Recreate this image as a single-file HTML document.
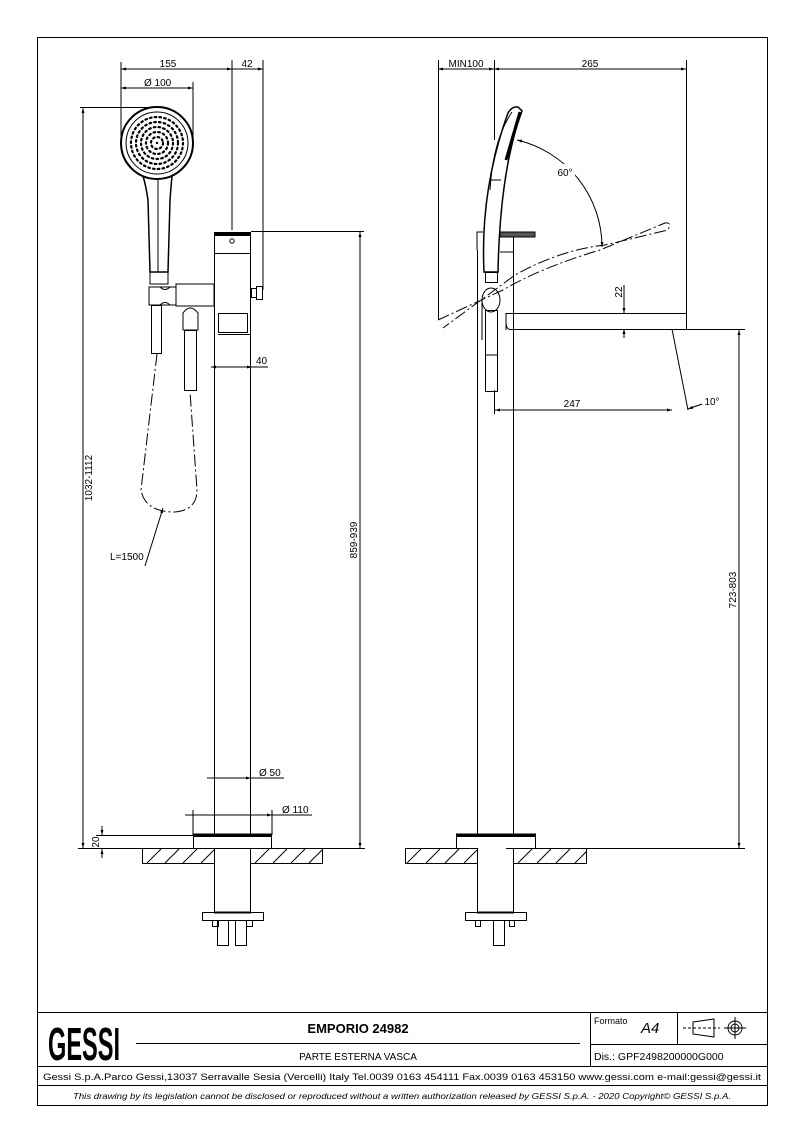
<!DOCTYPE html>
<html><head><meta charset="utf-8"><style>
html,body{margin:0;padding:0;background:#fff}
svg{display:block}
text{font-family:"Liberation Sans",sans-serif;fill:#000}
</style></head><body>
<svg width="794" height="1123" viewBox="0 0 794 1123" xmlns="http://www.w3.org/2000/svg">
<defs>
<marker id="a" viewBox="0 0 10 10" refX="10" refY="5" markerWidth="7" markerHeight="5" orient="auto-start-reverse"><path d="M0,2 L10,5 L0,8z" fill="#000"/></marker>
</defs>
<g fill="none" stroke="#000" stroke-width="1">
<rect x="37.5" y="37.5" width="730" height="1068"/>
<line x1="37" y1="1012.5" x2="767" y2="1012.5"/>
<line x1="37" y1="1066.5" x2="767" y2="1066.5"/>
<line x1="37" y1="1085.5" x2="767" y2="1085.5"/>
<line x1="136" y1="1043.5" x2="580" y2="1043.5"/>
<line x1="590.5" y1="1012" x2="590.5" y2="1066"/>
<line x1="590" y1="1044.5" x2="767" y2="1044.5"/>
<line x1="677.5" y1="1012" x2="677.5" y2="1044"/>
<path d="M693,1022 L714,1019 L714,1037 L693,1034 Z"/>
<line x1="683" y1="1028" x2="720" y2="1028" stroke-dasharray="3 2"/>
<circle cx="735" cy="1028" r="7"/><circle cx="735" cy="1028" r="4"/>
<line x1="724" y1="1028" x2="746" y2="1028"/><line x1="735" y1="1017" x2="735" y2="1039"/>

<!-- LEFT VIEW -->
<line x1="121" y1="62" x2="121" y2="140"/>
<line x1="232" y1="60" x2="232" y2="230"/>
<line x1="263" y1="60" x2="263" y2="290"/>
<line x1="121" y1="69" x2="232" y2="69" marker-start="url(#a)" marker-end="url(#a)"/>
<line x1="232" y1="69" x2="263" y2="69" marker-end="url(#a)"/>
<line x1="121" y1="88" x2="193" y2="88" marker-start="url(#a)" marker-end="url(#a)"/>
<line x1="193" y1="82" x2="193" y2="140"/>
<line x1="80" y1="107.5" x2="160" y2="107.5"/>
<line x1="83" y1="108" x2="83" y2="848" marker-start="url(#a)" marker-end="url(#a)"/>
<line x1="251" y1="231.5" x2="364" y2="231.5"/>
<line x1="360" y1="232" x2="360" y2="848" marker-start="url(#a)" marker-end="url(#a)"/>
<line x1="78" y1="848.5" x2="365" y2="848.5"/>
<line x1="96" y1="835.5" x2="193" y2="835.5"/>
<line x1="102" y1="826" x2="102" y2="835" marker-end="url(#a)"/>
<line x1="102" y1="858" x2="102" y2="849" marker-end="url(#a)"/>
<line x1="211" y1="367" x2="252" y2="367" marker-start="url(#a)" marker-end="url(#a)"/>
<line x1="252" y1="367" x2="268" y2="367"/>
<line x1="207" y1="778" x2="251" y2="778" marker-end="url(#a)"/>
<line x1="251" y1="778" x2="284" y2="778"/>
<line x1="185" y1="815" x2="193" y2="815"/>
<line x1="193" y1="815" x2="272" y2="815" marker-end="url(#a)"/>
<line x1="272" y1="815" x2="312" y2="815"/>
<line x1="193" y1="810" x2="193" y2="835"/><line x1="272" y1="810" x2="272" y2="835"/>
<rect x="214.5" y="232.5" width="36" height="3" fill="#000"/>
<line x1="214.5" y1="232" x2="214.5" y2="835"/>
<line x1="250.5" y1="232" x2="250.5" y2="835"/>
<line x1="214" y1="253.5" x2="251" y2="253.5"/>
<circle cx="232" cy="241" r="2.2"/>
<rect x="218.5" y="313.5" width="29" height="19"/>
<line x1="218" y1="334.5" x2="251" y2="334.5"/>
<rect x="251.5" y="288.5" width="5" height="9"/><rect x="256.5" y="286.5" width="6" height="13"/>
<path d="M176,284 L214,284 L214,306 L176,306 Z"/>
<path d="M149,287 L176,287 L176,305 L149,305 Z"/>
<path d="M160,287 Q165,292 170,287"/>
<path d="M160,305 Q165,300 170,305"/>
<rect x="151.5" y="305.5" width="10" height="48"/>
<path d="M183,313 Q190,303 198,313 L198,330 L183,330 Z"/>
<rect x="184.5" y="330.5" width="12" height="60"/>
<circle cx="157" cy="143" r="36" stroke-width="2"/>
<circle cx="157" cy="143" r="31"/>
<path d="M143,176 Q146,186 148,200 L150,272 L168,272 L170,200 Q171,186 172,176" stroke-width="1.5"/>
<line x1="158" y1="180" x2="158" y2="272"/>
<rect x="150" y="272" width="18" height="12"/>
<circle cx="157" cy="143" r="1.2" fill="#000" stroke="none"/>
<g stroke-dasharray="1.6 3.2" stroke-width="2.2" stroke-linecap="round">
<circle cx="157" cy="143" r="6"/>
<circle cx="157" cy="143" r="11"/>
<circle cx="157" cy="143" r="16"/>
<circle cx="157" cy="143" r="21"/>
<circle cx="157" cy="143" r="26"/>
</g>
<path d="M157,354 L141,490 Q145,512 175,512 Q197,510 197,490 L190,392" stroke-dasharray="12 3 2 3"/>
<line x1="145" y1="566" x2="163" y2="508" marker-end="url(#a)"/>
<rect x="193.5" y="834" width="78" height="2.5" fill="#000"/>
<line x1="193.5" y1="836" x2="193.5" y2="848"/><line x1="271.5" y1="836" x2="271.5" y2="848"/>
<path d="M142.5,848.5 H214.5 V863.5 H142.5 Z M250.5,848.5 H322.5 V863.5 H250.5 Z"/>
<path d="M147,863 L161,849 M165,863 L179,849 M183,863 L197,849 M201,863 L214,850 M255,863 L269,849 M273,863 L287,849 M291,863 L305,849 M309,863 L322,850"/>
<line x1="214.5" y1="848" x2="214.5" y2="912"/><line x1="250.5" y1="848" x2="250.5" y2="912"/>
<rect x="202.5" y="912.5" width="61" height="8"/>
<line x1="214" y1="912.5" x2="251" y2="912.5" stroke-width="2"/>
<rect x="212.5" y="920.5" width="6" height="6"/><rect x="246.5" y="920.5" width="6" height="6"/>
<rect x="217.5" y="920.5" width="11" height="25"/><rect x="235.5" y="920.5" width="11" height="25"/>

<!-- RIGHT VIEW -->
<line x1="438.5" y1="60" x2="438.5" y2="320"/>
<line x1="494.5" y1="60" x2="494.5" y2="140"/>
<line x1="686.5" y1="60" x2="686.5" y2="313"/>
<line x1="438" y1="69" x2="494" y2="69" marker-start="url(#a)" marker-end="url(#a)"/>
<line x1="494" y1="69" x2="686" y2="69" marker-start="url(#a)" marker-end="url(#a)"/>
<line x1="495" y1="410" x2="672" y2="410" marker-start="url(#a)" marker-end="url(#a)"/>
<line x1="494.5" y1="390" x2="494.5" y2="414"/>
<line x1="672" y1="329" x2="688" y2="410"/>
<line x1="702" y1="404" x2="688" y2="409" marker-end="url(#a)"/>
<line x1="624" y1="285" x2="624" y2="313" marker-end="url(#a)"/>
<line x1="624" y1="338" x2="624" y2="329" marker-end="url(#a)"/>
<line x1="686" y1="329.5" x2="745" y2="329.5"/>
<line x1="739" y1="330" x2="739" y2="848" marker-start="url(#a)" marker-end="url(#a)"/>
<line x1="506" y1="848.5" x2="745" y2="848.5"/>
<line x1="477.5" y1="250" x2="477.5" y2="834"/>
<line x1="513.5" y1="232" x2="513.5" y2="834"/>
<path d="M477,250 V232 H483"/>
<path d="M500,232 H535 V237 H500 Z" fill="#555"/>
<line x1="513" y1="252" x2="500" y2="252"/>
<path d="M506,313.5 H686.5 V329.5 H510 Q506,329 506,322 Z"/>
<line x1="506" y1="313" x2="506" y2="330"/>
<path d="M484,272 Q480,190 508,113 Q512,106 518,107 L522,111 Q500,170 498,272 Z" stroke-width="1.5"/>
<path d="M520,112 L506,160" stroke-width="3"/>
<path d="M490,190 Q493,140 512,112"/>
<line x1="491" y1="180" x2="501" y2="180"/>
<rect x="485.5" y="272.5" width="12" height="10"/>
<ellipse cx="491" cy="300" rx="9" ry="12"/>
<rect x="485.5" y="310.5" width="12" height="81"/>
<line x1="485" y1="355" x2="498" y2="355"/>
<line x1="482" y1="340" x2="482" y2="300"/>
<path d="M438,320 L503,290 Q540,268 600,250 L665,223 Q672,222 668,230 L605,245 Q560,250 515,275 L443,328" stroke-dasharray="12 3 2 3"/>
<path d="M517,140 A110,110 0 0 1 602,247" marker-start="url(#a)" marker-end="url(#a)"/>
<rect x="555" y="164" width="20" height="14" fill="#fff" stroke="none"/>
<rect x="456.5" y="834" width="79" height="2.5" fill="#000"/>
<line x1="456.5" y1="836" x2="456.5" y2="848"/><line x1="535.5" y1="836" x2="535.5" y2="848"/>
<path d="M405.5,848.5 H477.5 V863.5 H405.5 Z M513.5,848.5 H586.5 V863.5 H513.5 Z"/>
<path d="M407,863 L421,849 M426,863 L440,849 M445,863 L459,849 M464,863 L477,850 M518,863 L532,849 M537,863 L551,849 M556,863 L570,849 M575,863 L586,852"/>
<line x1="477.5" y1="848" x2="477.5" y2="912"/><line x1="513.5" y1="848" x2="513.5" y2="912"/>
<rect x="465.5" y="912.5" width="61" height="8"/>
<line x1="477" y1="912.5" x2="514" y2="912.5" stroke-width="2"/>
<rect x="475.5" y="920.5" width="5" height="6"/><rect x="509.5" y="920.5" width="5" height="6"/>
<rect x="493.5" y="920.5" width="11" height="25"/>
</g>

<g font-size="10">
<text x="168" y="67" text-anchor="middle">155</text>
<text x="247" y="67" text-anchor="middle">42</text>
<text x="144" y="86">Ø 100</text>
<text x="256" y="364">40</text>
<text x="259" y="776">Ø 50</text>
<text x="282" y="813">Ø 110</text>
<text x="110" y="560">L=1500</text>
<text transform="translate(92,478) rotate(-90)" text-anchor="middle">1032-1112</text>
<text transform="translate(357,540) rotate(-90)" text-anchor="middle">859-939</text>
<text transform="translate(99,842) rotate(-90)" text-anchor="middle">20</text>
<text x="466" y="67" text-anchor="middle">MIN100</text>
<text x="590" y="67" text-anchor="middle">265</text>
<text x="572" y="407" text-anchor="middle">247</text>
<text x="565" y="176" text-anchor="middle">60°</text>
<text x="712" y="405" text-anchor="middle">10°</text>
<text transform="translate(622,292) rotate(-90)" text-anchor="middle">22</text>
<text transform="translate(736,590) rotate(-90)" text-anchor="middle">723-803</text>
</g>
<text transform="translate(48,1060) scale(1,1.35)" font-size="34" font-weight="bold" textLength="72" lengthAdjust="spacingAndGlyphs">GESSI</text>
<text x="358" y="1033" font-size="13" font-weight="bold" text-anchor="middle">EMPORIO 24982</text>
<text x="358" y="1060" font-size="10" text-anchor="middle">PARTE ESTERNA VASCA</text>
<text x="594" y="1024" font-size="9">Formato</text>
<text x="641" y="1033" font-size="15" font-style="italic">A4</text>
<text x="594" y="1060" font-size="10.5">Dis.: GPF2498200000G000</text>
<text x="402" y="1080" font-size="9.5" text-anchor="middle" textLength="718" lengthAdjust="spacingAndGlyphs">Gessi S.p.A.Parco Gessi,13037 Serravalle Sesia (Vercelli) Italy Tel.0039 0163 454111 Fax.0039 0163 453150 www.gessi.com e-mail:gessi@gessi.it</text>
<text x="402" y="1099" font-size="8" font-style="italic" text-anchor="middle" textLength="658" lengthAdjust="spacingAndGlyphs">This drawing by its legislation cannot be disclosed or reproduced without a written authorization released by GESSI S.p.A. - 2020 Copyright© GESSI S.p.A.</text>
</svg>
</body></html>
